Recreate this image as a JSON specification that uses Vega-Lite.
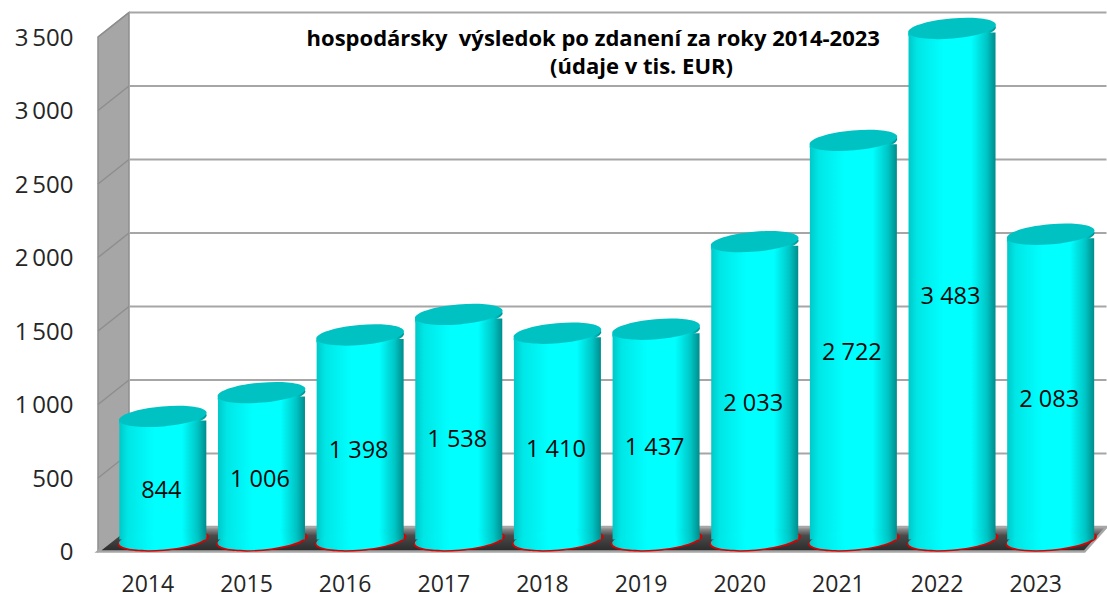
{
  "$schema": "https://vega.github.io/schema/vega-lite/v6.json",
  "width": 986.5,
  "height": 514.5,
  "autosize": "none",
  "padding": {"left": 98, "top": 37, "right": 22.5, "bottom": 47.5},
  "background": "white",
  "config": {"view": {"stroke": null}},
  "resolve": {"axis": {"x": "independent", "y": "independent"}},
  "title": {
    "text": "hospodársky\u00a0\u00a0výsledok po zdanení za roky 2014-2023",
    "anchor": "middle",
    "font": "Open Sans",
    "fontWeight": "bold",
    "fontSize": 22,
    "color": "black",
    "dy": 45,
    "dx": 2
  },
  "datasets": {
    "years": [
      {"year": 2014, "value": 844, "mid": 422, "label": "844"},
      {"year": 2015, "value": 1006, "mid": 503, "label": "1 006"},
      {"year": 2016, "value": 1398, "mid": 699, "label": "1 398"},
      {"year": 2017, "value": 1538, "mid": 769, "label": "1 538"},
      {"year": 2018, "value": 1410, "mid": 705, "label": "1 410"},
      {"year": 2019, "value": 1437, "mid": 718.5, "label": "1 437"},
      {"year": 2020, "value": 2033, "mid": 1016.5, "label": "2 033"},
      {"year": 2021, "value": 2722, "mid": 1361, "label": "2 722"},
      {"year": 2022, "value": 3483, "mid": 1741.5, "label": "3 483"},
      {"year": 2023, "value": 2083, "mid": 1041.5, "label": "2 083"}
    ],
    "levels": [
      {"level": 0}, {"level": 500}, {"level": 1000}, {"level": 1500},
      {"level": 2000}, {"level": 2500}, {"level": 3000}, {"level": 3500}
    ],
    "origin": [{"part": "corner"}]
  },
  "layer": [
    {
      "data": {"name": "origin"},
      "mark": {"type": "point", "shape": "M0,0 L31,-24.5 L31,-539 L0,-514.5 Z", "size": 4, "filled": true, "fill": "#a6a6a6", "stroke": "#8e8e8e", "strokeWidth": 1.5, "opacity": 1},
      "encoding": {
        "x": {"datum": 2013.5, "type": "quantitative", "scale": {"domain": [2013.5, 2023.5], "nice": false, "zero": false, "padding": 0}, "axis": null},
        "y": {"datum": 0, "type": "quantitative", "scale": {"domain": [0, 3500], "nice": false, "padding": 0}, "axis": null}
      }
    },
    {
      "data": {"name": "levels"},
      "mark": {"type": "rule", "stroke": "#a6a6a6", "strokeWidth": 2.2, "xOffset": 31, "x2Offset": 22, "yOffset": -24.5, "y2Offset": -24.5},
      "encoding": {
        "x": {"datum": 2013.5, "type": "quantitative", "axis": null},
        "x2": {"datum": 2023.5},
        "y": {"field": "level", "type": "quantitative", "axis": null},
        "y2": {"field": "level"}
      }
    },
    {
      "data": {"name": "levels"},
      "mark": {"type": "rule", "stroke": "#8e8e8e", "strokeWidth": 1.5, "x2Offset": 31, "y2Offset": -24.5},
      "encoding": {
        "x": {"datum": 2013.5, "type": "quantitative", "axis": null},
        "x2": {"datum": 2013.5},
        "y": {"field": "level", "type": "quantitative", "axis": null},
        "y2": {"field": "level"}
      }
    },
    {
      "data": {"name": "origin"},
      "mark": {"type": "text", "font": "Open Sans", "fontWeight": "bold", "fontSize": 22, "color": "black", "align": "center", "baseline": "middle"},
      "encoding": {
        "x": {"datum": 2019.01, "type": "quantitative", "axis": null},
        "y": {"datum": 3295, "type": "quantitative", "axis": null},
        "text": {"value": "(údaje v tis. EUR)"}
      }
    },
    {
      "data": {"name": "origin"},
      "mark": {"type": "point", "shape": "M0,0 L31,-24.5 L1008.5,-24.5 L986.5,0 Z", "size": 4, "filled": true, "stroke": "#a6a6a6", "strokeWidth": 2.5, "opacity": 1,
        "fill": {"x1": 0, "y1": 0, "x2": 0, "y2": 1, "gradient": "linear", "stops": [{"offset": 0, "color": "#a0a0a0"}, {"offset": 0.35, "color": "#4a4a4a"}, {"offset": 1, "color": "#2a2a2a"}]}},
      "encoding": {
        "x": {"datum": 2013.5, "type": "quantitative", "axis": null},
        "y": {"datum": 0, "type": "quantitative", "axis": null}
      }
    },
    {
      "data": {"name": "years"},
      "mark": {"type": "point", "shape": "M-44,0 C-44,-5.5 -24.3,-10 0,-10 C24.3,-10 44,-5.5 44,0 C44,5.5 24.3,10 0,10 C-24.3,10 -44,5.5 -44,0 Z", "size": 4.35, "angle": -5, "filled": true, "fill": "#d80000", "opacity": 1, "xOffset": 16, "yOffset": -11},
      "encoding": {
        "x": {"field": "year", "type": "quantitative", "axis": null},
        "y": {"datum": 0, "type": "quantitative", "axis": null}
      }
    },
    {
      "data": {"name": "years"},
      "mark": {"type": "bar", "width": 87, "xOffset": 15.5, "yOffset": -7, "y2Offset": -12, "orient": "vertical",
        "fill": {"x1": 0, "y1": 0, "x2": 1, "y2": 0, "gradient": "linear", "stops": [{"offset": 0, "color": "#00c8c8"}, {"offset": 0.1, "color": "#00e6e6"}, {"offset": 0.4, "color": "#00ffff"}, {"offset": 0.72, "color": "#00ffff"}, {"offset": 0.9, "color": "#00c4c4"}, {"offset": 1, "color": "#008c8c"}]}},
      "encoding": {
        "x": {"field": "year", "type": "quantitative", "axis": {"values": [2014, 2015, 2016, 2017, 2018, 2019, 2020, 2021, 2022, 2023], "format": "d", "title": null, "grid": false, "domain": false, "ticks": false, "labelFont": "Open Sans", "labelFontSize": 23, "labelColor": "#262626", "labelPadding": 22, "labelFlush": false}},
        "y": {"field": "value", "type": "quantitative", "axis": {"values": [0, 500, 1000, 1500, 2000, 2500, 3000, 3500], "labelExpr": "replace(format(datum.value, ','), ',', '\u2009')", "title": null, "grid": false, "domain": false, "ticks": false, "labelFont": "Open Sans", "labelFontSize": 24, "labelColor": "#262626", "labelPadding": 25, "labelOffset": 1}},
        "y2": {"datum": 0}
      }
    },
    {
      "data": {"name": "years"},
      "mark": {"type": "point", "shape": "M-44,0 C-44,-5.5 -24.3,-10 0,-10 C24.3,-10 44,-5.5 44,0 C44,5.5 24.3,10 0,10 C-24.3,10 -44,5.5 -44,0 Z", "size": 4, "angle": -5, "filled": true, "opacity": 1, "xOffset": 15.5, "yOffset": -12,
        "fill": {"x1": 0, "y1": 0, "x2": 1, "y2": 0, "gradient": "linear", "stops": [{"offset": 0, "color": "#00c8c8"}, {"offset": 0.1, "color": "#00e6e6"}, {"offset": 0.4, "color": "#00ffff"}, {"offset": 0.72, "color": "#00ffff"}, {"offset": 0.9, "color": "#00c4c4"}, {"offset": 1, "color": "#008c8c"}]}},
      "encoding": {
        "x": {"field": "year", "type": "quantitative", "axis": null},
        "y": {"datum": 0, "type": "quantitative", "axis": null}
      }
    },
    {
      "data": {"name": "years"},
      "mark": {"type": "point", "shape": "M-44,0 C-44,-5.5 -24.3,-10 0,-10 C24.3,-10 44,-5.5 44,0 C44,5.5 24.3,10 0,10 C-24.3,10 -44,5.5 -44,0 Z", "size": 4, "angle": -5, "filled": true, "opacity": 1, "xOffset": 15.5, "yOffset": -8.5,
        "fill": {"x1": 0, "y1": 0, "x2": 1, "y2": 0, "gradient": "linear", "stops": [{"offset": 0, "color": "#00c8c8"}, {"offset": 0.1, "color": "#00e6e6"}, {"offset": 0.4, "color": "#00ffff"}, {"offset": 0.72, "color": "#00ffff"}, {"offset": 0.9, "color": "#00c4c4"}, {"offset": 1, "color": "#008c8c"}]}},
      "encoding": {
        "x": {"field": "year", "type": "quantitative", "axis": null},
        "y": {"field": "value", "type": "quantitative", "axis": null}
      }
    },
    {
      "data": {"name": "years"},
      "mark": {"type": "point", "shape": "M-44,0 C-44,-5.5 -24.3,-10 0,-10 C24.3,-10 44,-5.5 44,0 C44,5.5 24.3,10 0,10 C-24.3,10 -44,5.5 -44,0 Z", "size": 4, "angle": -5, "filled": true, "fill": "#00c2c2", "opacity": 1, "xOffset": 15.5, "yOffset": -11},
      "encoding": {
        "x": {"field": "year", "type": "quantitative", "axis": null},
        "y": {"field": "value", "type": "quantitative", "axis": null}
      }
    },
    {
      "data": {"name": "years"},
      "mark": {"type": "text", "font": "Open Sans", "fontSize": 23.5, "color": "#0a0a0a", "xOffset": 14, "yOffset": 2, "align": "center", "baseline": "middle"},
      "encoding": {
        "x": {"field": "year", "type": "quantitative", "axis": null},
        "y": {"field": "mid", "type": "quantitative", "axis": null},
        "text": {"field": "label"}
      }
    }
  ]
}
